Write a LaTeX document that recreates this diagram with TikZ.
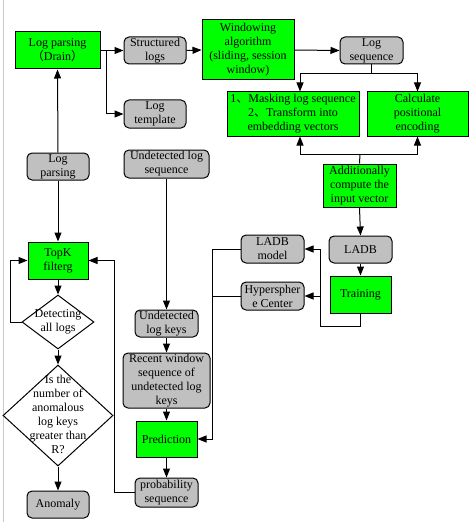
\documentclass[tikz,border=0pt]{standalone}
\usepackage{fontspec}
\setmainfont{Liberation Serif}
\newfontfamily\cjk{Noto Sans CJK SC}
\usetikzlibrary{shapes.geometric,arrows.meta,calc}
\definecolor{gbox}{HTML}{00FF00}
\definecolor{rbox}{HTML}{C0C0C0}
\begin{document}
\begin{tikzpicture}[x=1pt,y=-1pt,
  every node/.style={font=\fontsize{12}{14}\selectfont, align=center, inner sep=0pt},
  greenbox/.style={draw, line width=1pt, fill=gbox},
  graybox/.style={draw, line width=1pt, fill=rbox, rounded corners=5pt},
  diabox/.style={draw, line width=1pt, fill=white, shape=diamond},
  conn/.style={line width=1pt},
  arr/.style={conn, -{Triangle[length=9pt,width=7pt]}}]
\useasboundingbox (0,0) rectangle (472,532);
\draw[gray!40, line width=1pt] (3,0) -- (3,522);

% top row
\node[greenbox, minimum width=85, minimum height=37] (lpd) at (57.5,50.5) {Log parsing\\{\cjk（}Drain{\cjk）}};
\node[graybox, minimum width=62, minimum height=27] (sl) at (155,50.5) {Structured\\logs};
\node[graybox, minimum width=62, minimum height=28] (lt) at (155,114) {Log\\template};
\node[greenbox, minimum width=92, minimum height=60] (wa) at (248,50) {Windowing\\algorithm\\(sliding, session\\window)};
\node[graybox, minimum width=63, minimum height=27] (ls) at (371.5,50.5) {Log\\sequence};
\node[greenbox, minimum width=132, minimum height=44] (mask) at (293,114) {1{\cjk 、}Masking log sequence\\2{\cjk 、}Transform into\\embedding vectors};
\node[greenbox, minimum width=101, minimum height=44] (calc) at (417.5,114) {Calculate\\positional\\encoding};
\node[greenbox, minimum width=73, minimum height=43] (add) at (359.5,185.5) {Additionally\\compute the\\input vector};
\node[graybox, minimum width=63, minimum height=27] (ladb) at (360.5,249.5) {LADB};
\node[greenbox, minimum width=61, minimum height=37] (train) at (360.5,294.5) {Training};
\node[graybox, minimum width=63, minimum height=28] (lm) at (272.5,249) {LADB\\model};
\node[graybox, minimum width=63, minimum height=28] (hc) at (272.5,296) {Hyperspher\\e Center};

% middle column
\node[graybox, minimum width=85, minimum height=28] (uls) at (166.5,164) {Undetected log\\sequence};
\node[graybox, minimum width=63, minimum height=27] (ulk) at (166.5,323.5) {Undetected\\log keys};
\node[graybox, minimum width=87, minimum height=55] (rw) at (166.5,380.5) {Recent window\\sequence of\\undetected log\\keys};
\node[greenbox, minimum width=61, minimum height=36] (pred) at (166.5,439) {Prediction};
\node[graybox, minimum width=63, minimum height=29] (ps) at (166.5,492.5) {probability\\sequence};

% left column
\node[graybox, minimum width=62, minimum height=27] (lpg) at (58,166.5) {Log\\parsing};
\node[greenbox, minimum width=60, minimum height=37] (topk) at (58,260.5) {TopK\\filterg};
\node[diabox, minimum width=72, minimum height=54] (d1) at (58,322) {};
\node at (d1.center) {Detecting\\all logs};
\node[diabox, minimum width=110, minimum height=101] (d2) at (58,415.5) {};
\node at ($(d2.center)+(0,-1)$) {Is the\\number of\\anomalous\\log keys\\greater than\\R?};
\node[graybox, minimum width=62, minimum height=27] (anom) at (58,504.5) {Anomaly};

% connectors top
\draw[arr] (lpd.east) -- (sl.west);
\draw[arr] ($(lpd.east)+(6,0)$) |- (lt.west);
\draw[arr] (sl.east) -- (wa.west);
\draw[arr] (wa.east) -- (ls.west);
\coordinate (j1) at (371.5,74);
\draw[conn] (ls.south) -- (j1);
\draw[arr] (j1) -| ($(mask.north)+(7,0)$);
\draw[arr] (j1) -| (calc.north);
\coordinate (j2) at (360,154);
\draw[conn] (add.north) -- (j2);
\draw[arr] (j2) -| ($(mask.south)+(7,0)$);
\draw[arr] (j2) -| (calc.south);
\draw[arr] (add.south) -- (ladb.north);
\draw[arr] (ladb.south) -- (train.north);
\coordinate (t1) at (320.7,249);
\draw[conn] (train.south) -- ++(0,13) -| (t1);
\draw[arr] (t1) -- (lm.east);
\draw[arr] (t1 |- hc.east) -- (hc.east);
\draw[conn] (lm.west) -- ++(-28,0) coordinate (p1);
\draw[conn] (hc.west) -- (p1 |- hc.west);
\draw[arr] (p1) |- (pred.east);

% middle
\draw[arr] (uls.south) -- (ulk.north);
\draw[arr] (ulk.south) -- (rw.north);
\draw[arr] (rw.south) -- (pred.north);
\draw[arr] (pred.south) -- (ps.north);
\draw[arr] (ps.west) -- ++(-20,0) |- (topk.east);

% left
\draw[arr] (lpg.north) -- (lpd.south);
\draw[arr] (lpg.south) -- (topk.north);
\draw[arr] (topk.south) -- (d1.north);
\draw[arr] (d1.west) -- ++(-11,0) |- (topk.west);
\draw[arr] (d1.south) -- (d2.north);
\draw[arr] (d2.south) -- (anom.north);
\end{tikzpicture}
\end{document}
